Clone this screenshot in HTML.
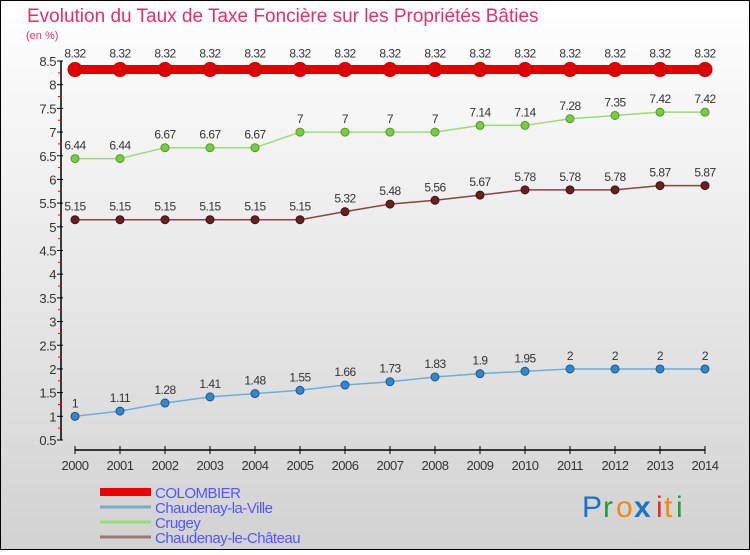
<!DOCTYPE html>
<html><head><meta charset="utf-8"><style>
html,body{margin:0;padding:0;}
body{width:750px;height:550px;overflow:hidden;font-family:"Liberation Sans",sans-serif;}
</style></head><body>
<svg id="chart" width="750" height="550" xmlns="http://www.w3.org/2000/svg">
<defs><linearGradient id="bg" x1="0" y1="0" x2="0" y2="1"><stop offset="0" stop-color="#ffffff"/><stop offset="1" stop-color="#d2d2d2"/></linearGradient></defs>
<rect x="0.5" y="0.5" width="749" height="549" fill="url(#bg)" stroke="#000" stroke-width="1"/>
<text x="27" y="22" font-size="19" fill="#e0306a">Evolution du Taux de Taxe Foncière sur les Propriétés Bâties</text>
<text x="26" y="39" font-size="11" fill="#e0306a">(en %)</text>
<g id="axes"></g><g id="series"></g><g id="legend"></g>
<g font-size="30" font-family="'Liberation Sans',sans-serif">
<text x="582" y="517" fill="#1a73c8">P</text><text x="603" y="517" fill="#2a9a3a">r</text><text x="616" y="517" fill="#f08a10">o</text><text x="634" y="517" fill="#1a73c8" font-weight="bold">x</text><text x="656" y="517" fill="#e03020">i</text><text x="664" y="517" fill="#f08a10">t</text><text x="676" y="517" fill="#2a9a3a">i</text>
</g>
</svg>
<script>
const years=[2000,2001,2002,2003,2004,2005,2006,2007,2008,2009,2010,2011,2012,2013,2014];
const colombier=[8.32,8.32,8.32,8.32,8.32,8.32,8.32,8.32,8.32,8.32,8.32,8.32,8.32,8.32,8.32];
const chaudenayVille=[1,1.11,1.28,1.41,1.48,1.55,1.66,1.73,1.83,1.9,1.95,2,2,2,2];
const crugey=[6.44,6.44,6.67,6.67,6.67,7,7,7,7,7.14,7.14,7.28,7.35,7.42,7.42];
const chaudenayChateau=[5.15,5.15,5.15,5.15,5.15,5.15,5.32,5.48,5.56,5.67,5.78,5.78,5.78,5.87,5.87];
const yTicks=[0.5,1,1.5,2,2.5,3,3.5,4,4.5,5,5.5,6,6.5,7,7.5,8,8.5];
const seriesNames=["COLOMBIER","Chaudenay-la-Ville","Crugey","Chaudenay-le-Château"];
const NS="http://www.w3.org/2000/svg";
const sx=i=>75+i*45;
const sy=v=>440-(v-0.5)*(379/8);
function mk(p,t,a){const e=document.createElementNS(NS,t);for(const k in a)e.setAttribute(k,a[k]);p.appendChild(e);return e;}
const axes=document.getElementById('axes');
let e=mk(axes,'line',{x1:61,y1:sy(8.5),x2:61,y2:sy(0.5),stroke:'#000','stroke-width':1.5});


yTicks.forEach((v,i)=>{
 const t=mk(axes,'line',{x1:57,x2:63,y1:sy(v),y2:sy(v),stroke:'#000'});
 
 
 if(i<yTicks.length-1){const m=mk(axes,'line',{x1:58,x2:62,y1:sy(v+0.25),y2:sy(v+0.25),stroke:'#e00'});
 
 }
 const l=mk(axes,'text',{x:56,y:sy(v)+5,'text-anchor':'end','font-size':13,fill:'#333','letter-spacing':'-0.5'});l.textContent=v;
 
 
});
e=mk(axes,'line',{x1:sx(0),x2:sx(years.length-1),y1:450,y2:450,stroke:'#000','stroke-width':1.5});


years.forEach((y,i)=>{
 const t=mk(axes,'line',{x1:sx(i),x2:sx(i),y1:446,y2:454,stroke:'#000'});
 
 
 const l=mk(axes,'text',{x:sx(i),y:470,'text-anchor':'middle','font-size':13,fill:'#333','letter-spacing':'-0.5'});l.textContent=y;
 
 
});
const sg=document.getElementById('series');
function draw(vals,name,color,w,r,fill,stroke){
 const g=mk(sg,'g',{});
 
 
 const pl=mk(g,'polyline',{points:vals.map((v,i)=>sx(i)+','+sy(v)).join(' '),fill:'none',stroke:color,'stroke-width':w});
 
 
 vals.forEach((v,i)=>{
  const c=mk(g,'circle',{cx:sx(i),cy:sy(v),r:r,fill:fill,stroke:stroke,'stroke-width':1});
  
  
  const t=mk(g,'text',{x:sx(i),y:sy(v)-(r+5),'text-anchor':'middle','font-size':12,fill:'#333','letter-spacing':'-0.5'});t.textContent=v;
  
  
 });
}
draw(colombier,'colombier-series','#e00000',9,7,'#e00000','#c00000');
draw(crugey,'crugey-series','#99dd77',1.5,4,'#77cc44','#559922');
draw(chaudenayChateau,'chaudenay-le-chateau-series','#884444',1.5,4,'#662222','#441111');
draw(chaudenayVille,'chaudenay-la-ville-series','#6aaedc',1.5,4,'#3388cc','#225588');
const lg=document.getElementById('legend');
const lc=['#ee0000','#77aacc','#99dd77','#997777'],lw=[8,3,3,3],ly=[492,507,522,537];
seriesNames.forEach((n,i)=>{
 const g=mk(lg,'g',{});
 
 
 mk(g,'line',{x1:100,x2:151,y1:ly[i],y2:ly[i],stroke:lc[i],'stroke-width':lw[i]});
 const t=mk(g,'text',{x:155,y:ly[i]+6,'font-size':15,fill:'#5555ff','letter-spacing':'-0.5'});t.textContent=n;
});
</script>
</body></html>
